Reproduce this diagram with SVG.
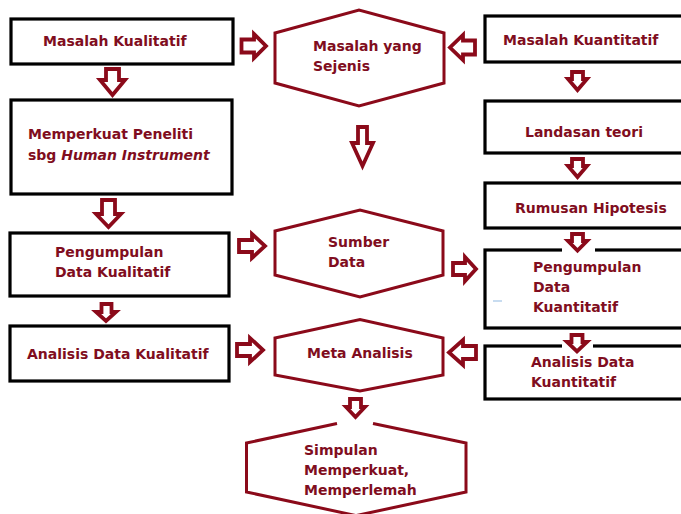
<svg xmlns="http://www.w3.org/2000/svg" width="681" height="514" viewBox="0 0 681 514">
<style>
.box{fill:#fff;stroke:#000;stroke-width:3.2}
.hex{fill:#fff;stroke:#8B0A1A;stroke-width:3;stroke-linejoin:miter}
.arr{fill:#fff;stroke:#8B0A1A;stroke-width:3.8;stroke-linejoin:miter}
.t{font-family:"DejaVu Sans",Verdana,sans-serif;font-weight:bold;font-size:14px;fill:#800D20}
.gap{fill:#fff}
</style>
<rect width="681" height="514" fill="#fff"/>
<g id="n-masalah-kualitatif"><rect class="box" x="11" y="19" width="222" height="45"/><text class="t" x="43" y="46">Masalah Kualitatif</text></g>
<g id="n-memperkuat"><rect class="box" x="11" y="100" width="221" height="94"/><text class="t" x="28" y="139">Memperkuat Peneliti</text><text class="t" x="28" y="160">sbg <tspan font-style="italic">Human Instrument</tspan></text></g>
<g id="n-pengumpulan-kual"><rect class="box" x="10" y="233" width="219" height="63"/><text class="t" x="55" y="257">Pengumpulan</text><text class="t" x="55" y="277">Data Kualitatif</text></g>
<g id="n-analisis-kual"><rect class="box" x="10" y="326" width="219" height="55"/><text class="t" x="27" y="359">Analisis Data Kualitatif</text></g>
<g id="n-masalah-sejenis"><polygon class="hex" points="275,33 359,10 444,33 444,83 359,106 275,83"/><text class="t" x="313" y="51">Masalah yang</text><text class="t" x="313" y="71">Sejenis</text></g>
<g id="n-sumber-data"><polygon class="hex" points="275,231 360,210 443,231 443,275 360,297 275,275"/><text class="t" x="328" y="247">Sumber</text><text class="t" x="328" y="267">Data</text></g>
<g id="n-meta-analisis"><polygon class="hex" points="275,338 360,319.5 443,338 443,375 360,391 275,375"/><text class="t" x="307" y="358">Meta Analisis</text></g>
<g id="n-simpulan"><path class="hex" d="M337,423.5 L246.5,443 L246.5,492 L356,515.6 L466,492 L466,443 L373,423.5"/><text class="t" x="304" y="455">Simpulan</text><text class="t" x="304" y="475">Memperkuat,</text><text class="t" x="304" y="495">Memperlemah</text></g>
<g id="n-masalah-kuantitatif"><rect class="box" x="485" y="16" width="210" height="46"/><text class="t" x="503" y="45">Masalah Kuantitatif</text></g>
<g id="n-landasan"><rect class="box" x="485" y="101" width="210" height="52"/><text class="t" x="525" y="137">Landasan teori</text></g>
<g id="n-rumusan"><rect class="box" x="485" y="183" width="210" height="45"/><text class="t" x="515" y="213">Rumusan Hipotesis</text></g>
<g id="n-pengumpulan-kuant"><rect class="box" x="485" y="250" width="210" height="78"/><text class="t" x="533" y="272">Pengumpulan</text><text class="t" x="533" y="292">Data</text><text class="t" x="533" y="312">Kuantitatif</text><rect x="493" y="300" width="9" height="2" fill="#c8dcf0"/></g>
<g id="n-analisis-kuant"><rect class="box" x="485" y="346" width="210" height="53"/><text class="t" x="531" y="367">Analisis Data</text><text class="t" x="531" y="387">Kuantitatif</text></g>
<g id="connectors">
<rect class="gap" x="562" y="247" width="33" height="6"/>
<rect class="gap" x="562" y="343" width="31" height="6"/>
<polygon class="arr" points="241.5,39.5 254,39.5 254,34 266,46 254,58 254,52.5 241.5,52.5"/>
<polygon class="arr" points="475,40.5 463,40.5 463,35 450,47.5 463,60 463,54.5 475,54.5"/>
<polygon class="arr" points="358,127 367,127 367,143 373,143 362.5,166 352,143 358,143"/>
<polygon class="arr" points="106,69 119,69 119,80 125,80 112.5,95 100,80 106,80"/>
<polygon class="arr" points="102,200 115,200 115,214 121,214 108.5,227 96,214 102,214"/>
<polygon class="arr" points="101.5,304 111.5,304 111.5,312 116,312 106,321 96,312 101.5,312"/>
<polygon class="arr" points="239,240 252,240 252,234 265,246 252,258 252,252 239,252"/>
<polygon class="arr" points="237,344 250,344 250,338 263,350 250,362 250,356 237,356"/>
<polygon class="arr" points="453,263 465,263 465,257 476,269 465,281 465,275 453,275"/>
<polygon class="arr" points="476,346 463,346 463,340 449,352.5 463,365 463,359 476,359"/>
<polygon class="arr" points="572,72 583,72 583,79 587,79 577.5,90 568,79 572,79"/>
<polygon class="arr" points="572,159 583,159 583,166 587,166 577.5,177 568,166 572,166"/>
<polygon class="arr" points="572,234 583,234 583,241 587,241 577.5,250.5 568,241 572,241"/>
<polygon class="arr" points="571.5,335 582.5,335 582.5,342 587,342 577,351.5 567,342 571.5,342"/>
<polygon class="arr" points="350,399 361,399 361,407 365,407 355.5,417 346,407 350,407"/>
</g>
</svg>
